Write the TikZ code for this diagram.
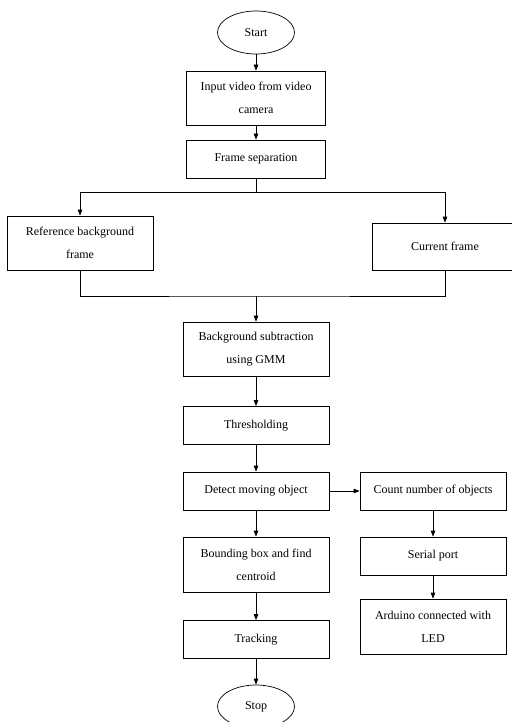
\documentclass[tikz,border=0pt]{standalone}
\usepackage{fontspec}
\setmainfont{Liberation Serif}
\usetikzlibrary{shapes.geometric,arrows.meta}
\begin{document}
\begin{tikzpicture}[x=1pt, y=-1pt, line width=0.7pt,
    box/.style={draw, rectangle, inner sep=0pt, minimum width=146pt, minimum height=38pt, align=center, font=\fontsize{12}{23}\selectfont},
    term/.style={draw, ellipse, inner sep=0pt, minimum width=77pt, minimum height=43pt, font=\fontsize{12}{14}\selectfont},
    arr/.style={-{Triangle[length=6pt,width=4.5pt]}}]
    \useasboundingbox (0,0) rectangle (511,722);

    \node[term] (start) at (256,32.5) {Start};
    \node[box, minimum width=139pt, minimum height=54pt] (input) at (256,98) {Input video from video\\camera};
    \node[box, minimum width=139pt] (sep) at (256,159) {Frame separation};

    \node[box, minimum height=54pt] (ref) at (80,243) {Reference background\\frame};
    \node[box, minimum height=47pt] (cur) at (445,246.5) {Current frame};
    \coordinate (split) at (256,192);
    \coordinate (join) at (256,296);

    \node[box, minimum height=54pt] (bgs) at (256,349) {Background subtraction\\using GMM};
    \node[box] (thr) at (256,425.5) {Thresholding};
    \node[box] (det) at (256,491) {Detect moving object};
    \node[box, minimum height=55pt] (bbx) at (256,564.5) {Bounding box and find\\centroid};
    \node[box] (trk) at (256,639.5) {Tracking};
    \node[term] (stop) at (256,706.5) {Stop};

    \node[box] (cnt) at (433,491) {Count number of objects};
    \node[box] (ser) at (433,556) {Serial port};
    \node[box, minimum height=55pt] (ard) at (433,626.5) {Arduino connected with\\LED};

    % main column
    \draw[arr] (start) -- (input);
    \draw[arr] (input) -- (sep);
    \draw (sep) -- (split);
    \draw[arr] (split) -| (ref.north);
    \draw[arr] (split) -| (cur.north);
    \draw (ref.south) |- (join) -| (cur.south);
    \draw[arr] (join) -- (bgs);
    \draw[arr] (bgs) -- (thr);
    \draw[arr] (thr) -- (det);
    \draw[arr] (det) -- (bbx);
    \draw[arr] (bbx) -- (trk);
    \draw[arr] (trk) -- (stop);

    % counting branch
    \draw[arr] (det) -- (cnt);
    \draw[arr] (cnt) -- (ser);
    \draw[arr] (ser) -- (ard);
\end{tikzpicture}
\end{document}
